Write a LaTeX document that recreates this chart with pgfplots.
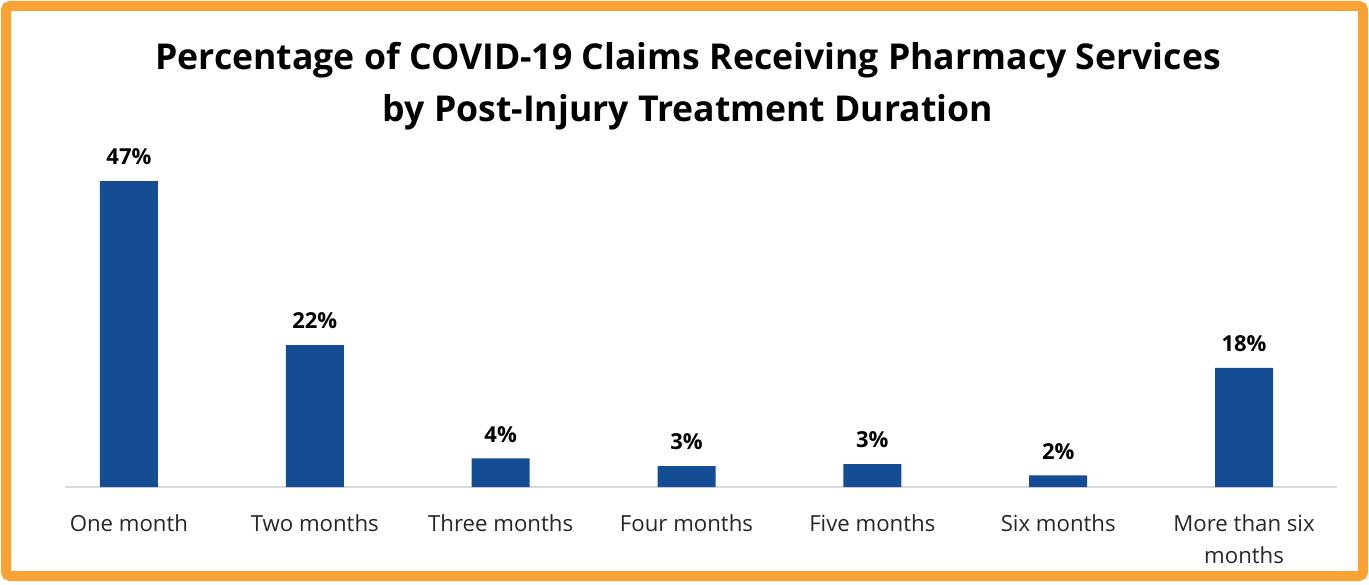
\documentclass[border=0pt]{standalone}
\usepackage{fontspec}
\setmainfont{Open Sans}
\usepackage{pgfplots}
\pgfplotsset{compat=1.18}
\definecolor{barblue}{HTML}{154D94}
\definecolor{frameorange}{HTML}{F9A335}
\definecolor{axisgray}{HTML}{D9D9D9}

\begin{document}
\begin{tikzpicture}[x=0.5pt,y=0.5pt]
% page = 1369 x 584 px, 1px = 0.5pt
\path[use as bounding box] (0,0) rectangle (1369,584);
\draw[frameorange,line width=5pt,rounded corners=2pt] (6,8) rectangle (1363,578);

\node[font=\bfseries\fontsize{17.8}{24.5}\selectfont,align=center] at (688,497.5)
  {Percentage of COVID-19 Claims Receiving Pharmacy Services\\[1.5pt]by Post-Injury Treatment Duration};

\begin{axis}[
  at={(32.5pt,48.5pt)},
  anchor=south west,
  scale only axis,
  width=636pt,
  height=162.75pt,
  xmin=-0.344, xmax=6.5,
  ymin=0, ymax=50,
  axis y line=none,
  axis x line*=bottom,
  x axis line style={axisgray,line width=0.8pt,-},
  xtick={0,...,6},
  major tick length=0pt,
  xticklabels={One month,Two months,Three months,Four months,Five months,Six months,{More than six\\months}},
  xticklabel style={align=center,font=\fontsize{11.1}{16}\selectfont,text=black!85,yshift=-10.5pt},
  ybar,
  bar width=29pt,
  point meta=explicit symbolic,
  nodes near coords,
  every node near coord/.append style={font=\bfseries\fontsize{11}{12}\selectfont,text=black,yshift=4.5pt},
  clip=false
]
\addplot[fill=barblue,draw=none] coordinates {
  (0,47.0) [47\%]
  (1,21.8) [22\%]
  (2,4.4) [4\%]
  (3,3.2) [3\%]
  (4,3.5) [3\%]
  (5,1.8) [2\%]
  (6,18.3) [18\%]
};
\end{axis}
\end{tikzpicture}
\end{document}
